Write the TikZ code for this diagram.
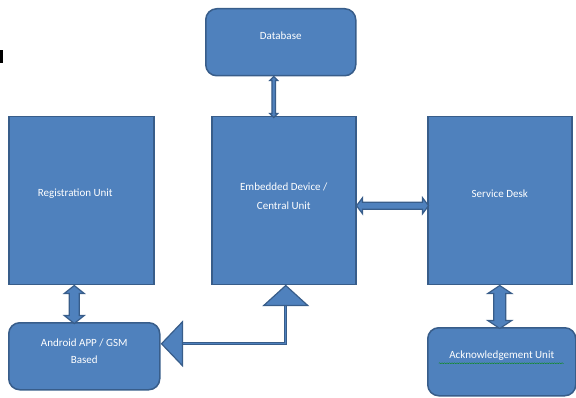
\documentclass[tikz,border=0pt]{standalone}
\usepackage{fontspec}
\setmainfont{Carlito}
\usetikzlibrary{calc,decorations.pathmorphing}
\definecolor{boxfill}{HTML}{4F81BD}
\definecolor{boxline}{HTML}{385D8A}
\newcommand\vdarrow[5]{%
  \draw[arr] #1 -- ++(#4,#5) -- ++(-#4+#3,0) -- ++(0,#2-2*#5) -- ++(#4-#3,0) -- ++(-#4,#5)
    -- ++(-#4,-#5) -- ++(#4-#3,0) -- ++(0,-#2+2*#5) -- ++(-#4+#3,0) -- cycle;}
\newcommand\hdarrow[5]{%
  \draw[arr] #1 -- ++(#5,-#4) -- ++(0,#4-#3) -- ++(#2-2*#5,0) -- ++(0,-#4+#3) -- ++(#5,#4)
    -- ++(-#5,#4) -- ++(0,-#4+#3) -- ++(-#2+2*#5,0) -- ++(0,#4-#3) -- cycle;}
\tikzset{
  blk/.style={draw=boxline, fill=boxfill, line width=1.5pt, anchor=north west, inner sep=0pt},
  rblk/.style={blk, rounded corners=11pt},
  lbl/.style={text=white, font=\fontsize{11}{19}\selectfont, align=center},
  arr/.style={draw=boxline, fill=boxfill, line width=1.2pt, line join=miter},
}
\begin{document}
\begin{tikzpicture}[x=1pt,y=-1pt]
\useasboundingbox (0,0) rectangle (576,398);
\fill (0,50) rectangle (2.5,63);
% boxes
\node[rblk, minimum width=150pt, minimum height=67pt,
  label={[lbl, yshift=6.5pt]center:Database}] (db) at (205,8) {};
\node[blk, minimum width=145pt, minimum height=168pt,
  label={[lbl, yshift=7pt, xshift=-6pt]center:Registration Unit}] (reg) at (8,116) {};
\node[blk, minimum width=144pt, minimum height=168pt,
  label={[lbl, yshift=5pt]center:Embedded Device /\\Central Unit}] (emb) at (211,116) {};
\node[blk, minimum width=144pt, minimum height=168pt,
  label={[lbl, yshift=7pt]center:Service Desk}] (svc) at (427,116) {};
\node[rblk, minimum width=151pt, minimum height=67pt,
  label={[lbl, font=\fontsize{11}{17}\selectfont, yshift=5.5pt]center:Android APP / GSM\\Based}] (and) at (8,322) {};
\node[rblk, minimum width=148pt, minimum height=68pt,
  label={[lbl, yshift=6pt]center:Acknowledgement Unit}] (ack) at (427,327) {};
\draw[green!55!black, line width=0.35pt, decorate,
  decoration={snake, amplitude=0.5pt, segment length=2.5pt}]
  ($(ack.center)+(-63,1.5)$) -- ($(ack.center)+(62,1.5)$);
% double arrows
\vdarrow{($(db.south)+(-7,0)$)}{41}{1.8}{4}{4}
\vdarrow{($(reg.south)+(-7,0)$)}{38}{5}{10}{8}
\vdarrow{(svc.south)}{43}{6}{12}{8}
\hdarrow{($(emb.east)+(0,5)$)}{72}{3.5}{8}{6}
% triangle connector
\coordinate (tu) at ($(emb.south)+(2,0)$);
\coordinate (tl) at ($(and.east)+(1,-12.5)$);
\draw[boxline, line width=3pt] ($(tu)+(0,20)$) |- ($(tl)+(21,0)$);
\draw[boxfill, line width=1.2pt] ($(tu)+(0,20)$) |- ($(tl)+(21,0)$);
\draw[arr] (tu) -- ++(22,20) -- ++(-44,0) -- cycle;
\draw[arr] (tl) -- ++(21,-22) -- ++(0,44) -- cycle;
\end{tikzpicture}
\end{document}
